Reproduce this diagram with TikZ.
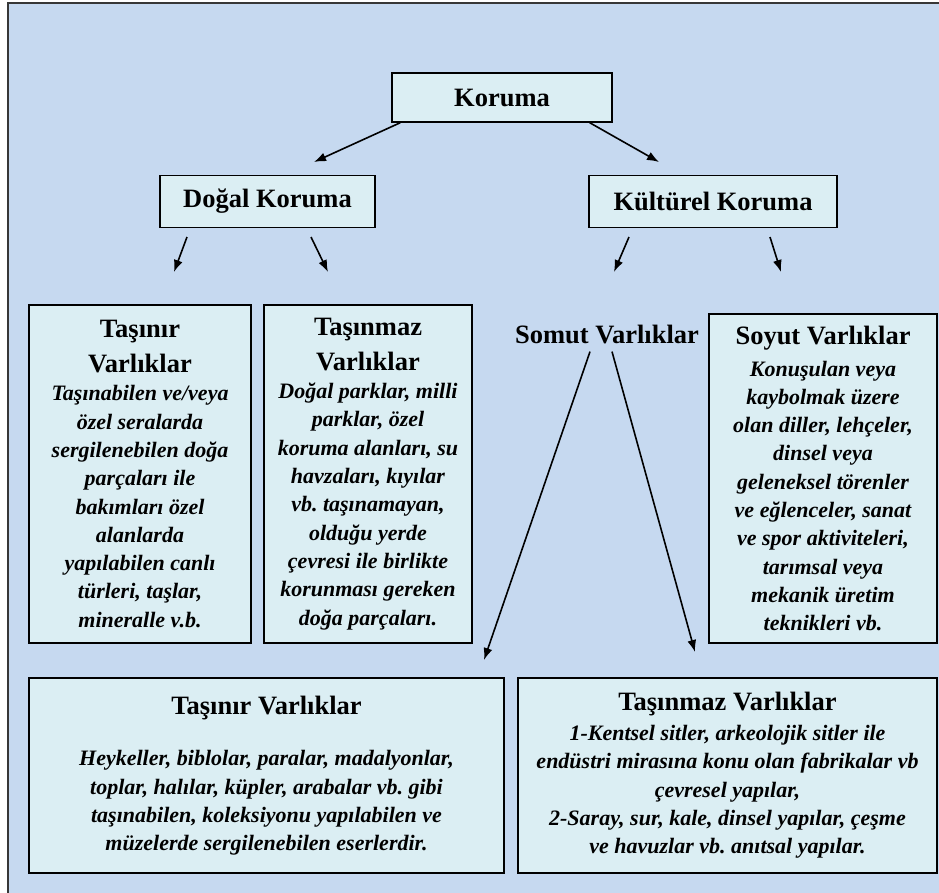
\documentclass[tikz,border=0pt]{standalone}
\usepackage{fontspec}
\setmainfont{Liberation Serif}
\usetikzlibrary{arrows.meta}
\frenchspacing

\definecolor{framebg}{RGB}{198,217,240}
\definecolor{boxfill}{RGB}{219,238,243}
\definecolor{framegray}{RGB}{55,55,55}

\newcommand{\headfont}{\fontsize{26.5}{34}\selectfont\upshape\bfseries}
\newcommand{\bodyfont}{\fontsize{22}{28.3}\selectfont\bfseries\itshape}

\begin{document}
\begin{tikzpicture}[x=1pt, y=-1pt,
    box/.style={draw=black, fill=boxfill, line width=1.4pt, align=center, inner sep=0pt},
    topbox/.style={box, minimum height=52pt, font=\headfont},
    textbox/.style={box, font=\bodyfont},
    plain/.style={font=\headfont, inner xsep=0pt},
    arrow/.style={-{Latex[length=12pt,width=9pt]}, line width=1.6pt}
  ]
    \useasboundingbox (0,0) rectangle (939,892);
    \fill[white] (0,0) rectangle (939,892);
    \draw[fill=framebg, draw=framegray, line width=1.8pt] (8,3) rectangle (960,910);

    % upper levels
    \node[topbox, minimum width=220pt, minimum height=49pt] (koruma) at (502,97.5) {Koruma};
    \node[topbox, minimum width=215pt] (dogal) at (267.5,201.5) {Doğal Koruma};
    \node[topbox, minimum width=248pt] (kulturel) at (713,201.5) {Kültürel Koruma};

    % natural protection
    \node[textbox, minimum width=222pt, minimum height=338pt] (tasinir) at (140,474) {%
      {\headfont Taşınır}\\[6.5pt]{\headfont Varlıklar}\\
      Taşınabilen ve/veya\\özel seralarda\\sergilenebilen doğa\\parçaları ile\\%
      bakımları özel\\alanlarda\\yapılabilen canlı\\türleri, taşlar,\\mineralle v.b.};
    \node[textbox, minimum width=208pt, minimum height=338pt] (tasinmaz) at (368,474) {%
      {\headfont Taşınmaz}\\[6.5pt]{\headfont Varlıklar}\\
      Doğal parklar, milli\\parklar, özel\\koruma alanları, su\\havzaları, kıyılar\\%
      vb. taşınamayan,\\olduğu yerde\\çevresi ile birlikte\\korunması gereken\\doğa parçaları.};

    % cultural protection
    \node[plain, anchor=base, inner ysep=8pt] (somut) at (607,343) {Somut Varlıklar};
    \node[textbox, minimum width=228pt, minimum height=329pt] (soyut) at (823,478.5) {%
      {\headfont Soyut Varlıklar}\\[3.5pt]
      Konuşulan veya\\kaybolmak üzere\\olan diller, lehçeler,\\dinsel veya\\%
      geleneksel törenler\\ve eğlenceler, sanat\\ve spor aktiviteleri,\\tarımsal veya\\%
      mekanik üretim\\teknikleri vb.};
    \node[textbox, minimum width=475pt, minimum height=195pt] (somutTasinir) at (266.5,775.5) {%
      {\headfont Taşınır Varlıklar}\\[23.5pt]
      Heykeller, biblolar, paralar, madalyonlar,\\toplar, halılar, küpler, arabalar vb. gibi\\%
      taşınabilen, koleksiyonu yapılabilen ve\\müzelerde sergilenebilen eserlerdir.};
    \node[textbox, minimum width=419pt, minimum height=195pt] (somutTasinmaz) at (727.5,775.5) {%
      {\headfont Taşınmaz Varlıklar}\\[1.5pt]
      1-Kentsel sitler, arkeolojik sitler ile\\endüstri mirasına konu olan fabrikalar vb\\%
      çevresel yapılar,\\2-Saray, sur, kale, dinsel yapılar, çeşme\\ve havuzlar vb. anıtsal yapılar.};

    % free arrow ends
    \coordinate (korumaL) at (314,162);
    \coordinate (korumaR) at (659,162);
    \coordinate (dogalS1) at (187,237);
    \coordinate (dogalE1) at (174,272);
    \coordinate (dogalS2) at (311,237);
    \coordinate (dogalE2) at (328,272);
    \coordinate (kulturelS1) at (629,237);
    \coordinate (kulturelE1) at (614,272);
    \coordinate (kulturelS2) at (770,237);
    \coordinate (kulturelE2) at (781,272);
    \coordinate (somutL) at (484,660);
    \coordinate (somutR) at (695,652);

    \draw[arrow] ([xshift=9pt]koruma.south west) -- (korumaL);
    \draw[arrow] ([xshift=-23pt]koruma.south east) -- (korumaR);
    \draw[arrow] (dogalS1) -- (dogalE1);
    \draw[arrow] (dogalS2) -- (dogalE2);
    \draw[arrow] (kulturelS1) -- (kulturelE1);
    \draw[arrow] (kulturelS2) -- (kulturelE2);
    \draw[arrow] ([xshift=-17pt]somut.south) -- (somutL);
    \draw[arrow] ([xshift=5pt]somut.south) -- (somutR);
\end{tikzpicture}
\end{document}
